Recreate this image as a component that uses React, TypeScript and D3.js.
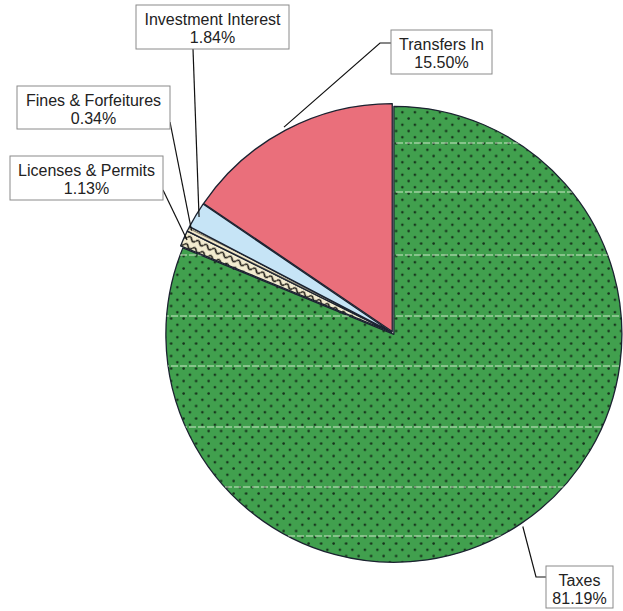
import React from "react";
import * as d3 from "d3";

const categories = ["Taxes", "Licenses & Permits", "Fines & Forfeitures", "Investment Interest", "Transfers In"];
const values = [81.19, 1.13, 0.34, 1.84, 15.5];
const valueLabels = ["81.19%", "1.13%", "0.34%", "1.84%", "15.50%"];

// styling / layout (not data)
const fills = ["url(#dots)", "url(#waves)", "url(#fines)", "#c6e4f6", "#ea6f7b"];
const boxes = [
  { x: 546, y: 566, w: 67, h: 42, leader: [[536, 577], [546, 577]] },
  { x: 10, y: 156, w: 153, h: 44, leader: [[163, 190]] },
  { x: 17, y: 86, w: 153, h: 43, leader: [[170, 122]] },
  { x: 136, y: 5, w: 153, h: 44, leader: [[193, 49]] },
  { x: 391, y: 30, w: 101, h: 44, leader: [[380, 43], [391, 43]] },
];
const artifactLines = [143, 192, 255, 316, 366, 427, 487, 536];

const W = 623, H = 611;
const cx = 393, cy = 333, R = 228;

export default function App() {
  const pie = d3.pie<number>().sort(null).value((d) => d).startAngle(0).endAngle(2 * Math.PI);
  const arcs = pie(values);
  const arcGen = d3.arc<d3.PieArcDatum<number>>().innerRadius(0).outerRadius(R);
  const explode = 1.6;
  const off = (a: d3.PieArcDatum<number>) => {
    const m = (a.startAngle + a.endAngle) / 2;
    return [Math.sin(m) * explode, -Math.cos(m) * explode];
  };
  const leaderStart = (a: d3.PieArcDatum<number>, i: number) => {
    const m = (a.startAngle + a.endAngle) / 2;
    const r = i === 0 || i === 4 ? R + 5 : R - 2;
    return [cx + Math.sin(m) * r, cy - Math.cos(m) * r];
  };
  return (
    <svg width={W} height={H} style={{ position: "absolute", left: 0, top: 0, background: "#fff" }}
      fontFamily="'Liberation Sans', Arial, sans-serif">
      <defs>
        <pattern id="dots" width={12.5} height={12.5} patternUnits="userSpaceOnUse" x={cx} y={0}>
          <rect width={12.5} height={12.5} fill="#41a04e" />
          <circle cx={3} cy={3} r={1.3} fill="#17331c" />
          <circle cx={9.25} cy={9.25} r={1.3} fill="#17331c" />
        </pattern>
        <pattern id="waves" width={9} height={8} patternUnits="userSpaceOnUse" patternTransform="rotate(26)">
          <rect width={9} height={8} fill="#f3ecd0" />
          <path d="M0,4 Q2.25,0.5 4.5,4 T9,4" fill="none" stroke="#1c1a14" strokeWidth={1.6} />
        </pattern>
        <pattern id="fines" width={4} height={3} patternUnits="userSpaceOnUse" patternTransform="rotate(26)">
          <rect width={4} height={3} fill="#efe6c8" />
          <line x1={0} y1={1.5} x2={4} y2={1.5} stroke="#3a3528" strokeWidth={0.6} />
        </pattern>
        <clipPath id="greenClip">
          <path d={arcGen(arcs[0]) || ""} transform={`translate(${cx + off(arcs[0])[0]},${cy + off(arcs[0])[1]})`} />
        </clipPath>
      </defs>
      {arcs.map((a, i) => {
        const [dx, dy] = off(a);
        return (
          <path key={categories[i]} d={arcGen(a) || ""} transform={`translate(${cx + dx},${cy + dy})`}
            fill={fills[i]} stroke="#1b2230" strokeWidth={1.3} strokeLinejoin="round" />
        );
      })}
      <g clipPath="url(#greenClip)">
        {artifactLines.map((y) => (
          <line key={y} x1={0} x2={W} y1={y} y2={y} stroke="#e9f6df" strokeWidth={1.1} strokeDasharray="7 2" opacity={0.85} />
        ))}
      </g>
      {arcs.map((a, i) => {
        const b = boxes[i];
        const s = leaderStart(a, i);
        const pts = [s, ...b.leader];
        return (
          <g key={"lab" + i}>
            <polyline points={pts.map((p) => p.join(",")).join(" ")} fill="none" stroke="#111" strokeWidth={1.2} />
            <rect x={b.x} y={b.y} width={b.w} height={b.h} fill="#fff" stroke="#8a8a8a" strokeWidth={1} />
            <text x={b.x + b.w / 2} y={b.y + 19.5} textAnchor="middle" fontSize={16} fill="#222">{categories[i]}</text>
            <text x={b.x + b.w / 2} y={b.y + 38} textAnchor="middle" fontSize={16} fill="#222">{valueLabels[i]}</text>
          </g>
        );
      })}
    </svg>
  );
}
